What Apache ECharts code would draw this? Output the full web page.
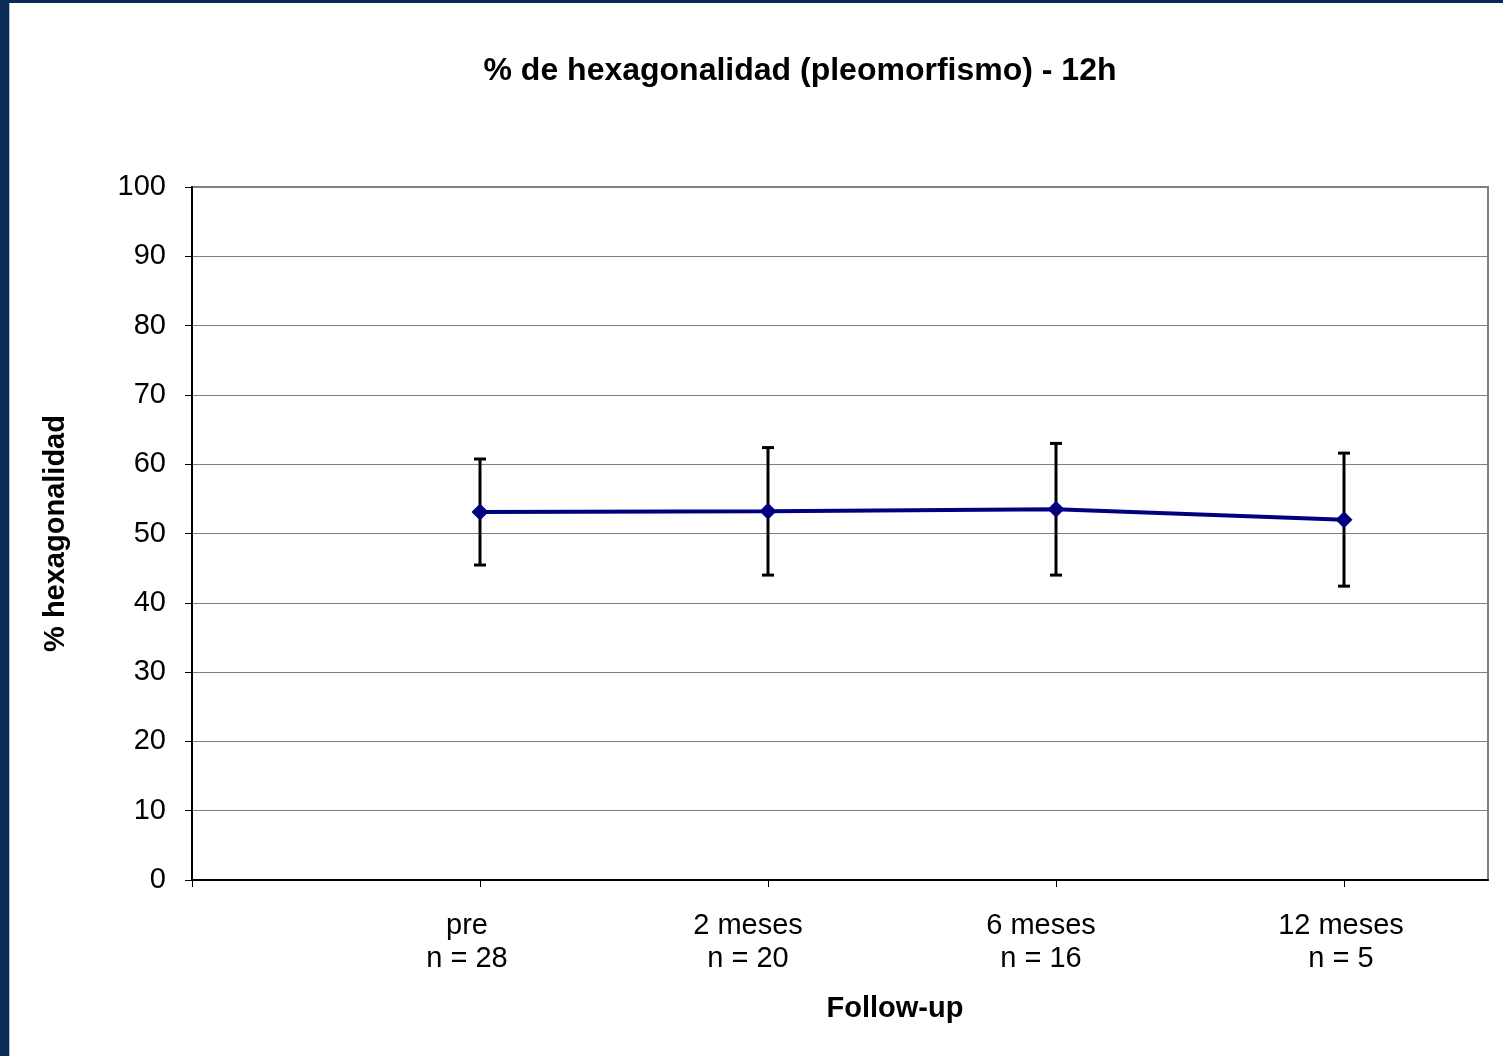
<!DOCTYPE html>
<html>
<head>
<meta charset="utf-8">
<script src="https://cdn.jsdelivr.net/npm/echarts@6/dist/echarts.min.js"></script>
<style>
html,body{margin:0;padding:0;background:#fff;}
#wrap{position:absolute;left:0;top:0;width:1503px;height:1056px;background:#fff;}
#bl{position:absolute;left:0;top:0;width:9px;height:1056px;background:#0a2b57;}
#bl2{position:absolute;left:9px;top:3px;width:1px;height:1053px;background:#b8bcc4;}
#bt{position:absolute;left:0;top:0;width:1503px;height:3px;background:#0a2b57;}
#chart{position:absolute;left:10px;top:3px;width:1493px;height:1053px;}
</style>
</head>
<body>
<div id="wrap">
<div id="chart"></div>
<div id="bl"></div><div id="bl2"></div><div id="bt"></div>
</div>
<script>
var categoryNames = ['pre', '2 meses', '6 meses', '12 meses'];
var sampleSizes = ['n = 28', 'n = 20', 'n = 16', 'n = 5'];
var positions = [1, 2, 3, 4];
var meanValues = [53.1, 53.2, 53.5, 52.0];
var sdValues = [7.65, 9.2, 9.5, 9.6];
var yTicks = [0, 10, 20, 30, 40, 50, 60, 70, 80, 90, 100];

var lineData = positions.map(function (p, i) { return [p, meanValues[i]]; });
var errData = positions.map(function (p, i) { return [p, meanValues[i] - sdValues[i], meanValues[i] + sdValues[i]]; });

// label styles reproducing the slight left shift of each label in the original
var labelStyleKeys = ['s0', 's1', 's2', 's3'];
var FONT = 'Liberation Sans, Arial, sans-serif';
var baseRich = {fontFamily: FONT, fontSize: 29, color: '#000', lineHeight: 33};
var rich = {
  s0: Object.assign({padding: [0, 26, 0, 0]}, baseRich),
  s1: Object.assign({padding: [0, 40, 0, 0]}, baseRich),
  s2: Object.assign({padding: [0, 30, 0, 0]}, baseRich),
  s3: Object.assign({padding: [0, 6, 0, 0]}, baseRich)
};

var chart = echarts.init(document.getElementById('chart'), null, {renderer: 'canvas'});
chart.setOption({
  animation: false,
  backgroundColor: '#ffffff',
  title: [
    {text: '% de hexagonalidad (pleomorfismo) - 12h', left: 785, top: 47, textAlign: 'center',
     textStyle: {fontFamily: FONT, fontSize: 32, fontWeight: 'bold', color: '#000'}},
    {text: 'Follow-up', left: 880, top: 986, textAlign: 'center',
     textStyle: {fontFamily: FONT, fontSize: 29, fontWeight: 'bold', color: '#000'}}
  ],
  grid: {left: 182, top: 184, right: 15, bottom: 176, show: true, borderColor: '#808080', borderWidth: 2, backgroundColor: 'transparent'},
  xAxis: {
    type: 'value', min: 0, max: 4.5, interval: 1,
    axisLine: {show: true, lineStyle: {color: '#000', width: 2}},
    axisTick: {show: true, length: 7, customValues: [0, 1, 2, 3, 4], lineStyle: {color: '#000', width: 1}},
    axisLabel: {
      customValues: positions,
      formatter: function (v) {
        var i = positions.indexOf(v);
        if (i < 0) return '';
        var k = labelStyleKeys[i];
        return '{' + k + '|' + categoryNames[i] + '}\n{' + k + '|' + sampleSizes[i] + '}';
      },
      rich: rich,
      fontFamily: FONT, fontSize: 29, color: '#000', lineHeight: 33, margin: 29
    },
    splitLine: {show: false}
  },
  yAxis: {
    type: 'value', min: 0, max: 100, interval: 10,
    name: '% hexagonalidad', nameLocation: 'middle', nameGap: 122, nameRotate: 90,
    nameTextStyle: {fontFamily: FONT, fontSize: 29, fontWeight: 'bold', color: '#000'},
    axisLine: {show: true, lineStyle: {color: '#000', width: 2}},
    axisTick: {show: true, inside: false, length: 7, lineStyle: {color: '#000', width: 1}},
    axisLabel: {fontFamily: FONT, fontSize: 29, color: '#000', margin: 26,
      formatter: function (v) { return yTicks.indexOf(v) >= 0 ? String(v) : ''; }},
    splitLine: {show: true, lineStyle: {color: '#808080', width: 1}}
  },
  series: [
    {
      type: 'custom',
      data: errData,
      z: 3,
      renderItem: function (params, api) {
        var x = api.value(0);
        var lo = api.coord([x, api.value(1)]);
        var hi = api.coord([x, api.value(2)]);
        var cap = 6;
        var st = {stroke: '#000', lineWidth: 3};
        return {type: 'group', children: [
          {type: 'line', shape: {x1: lo[0], y1: lo[1], x2: hi[0], y2: hi[1]}, style: st},
          {type: 'line', shape: {x1: lo[0] - cap, y1: lo[1], x2: lo[0] + cap, y2: lo[1]}, style: st},
          {type: 'line', shape: {x1: hi[0] - cap, y1: hi[1], x2: hi[0] + cap, y2: hi[1]}, style: st}
        ]};
      }
    },
    {
      type: 'line',
      data: lineData,
      z: 4,
      symbol: 'diamond', symbolSize: 17,
      lineStyle: {color: '#000080', width: 4},
      itemStyle: {color: '#000080'}
    }
  ]
});
</script>
</body>
</html>
